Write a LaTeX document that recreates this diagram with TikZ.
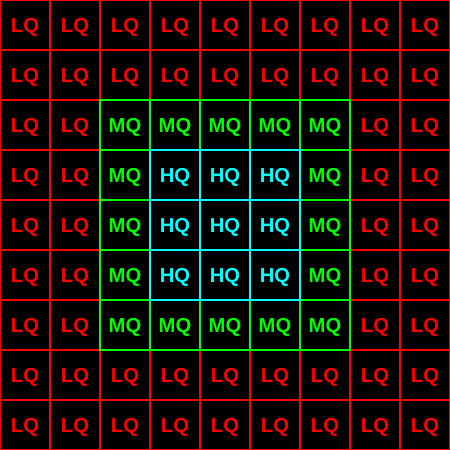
\documentclass[tikz,border=0pt]{standalone}
\usepackage{fontspec}
\setmainfont{Liberation Sans}
\definecolor{lqred}{RGB}{255,0,0}
\definecolor{mqgreen}{RGB}{0,255,0}
\definecolor{hqcyan}{RGB}{0,255,255}
\tikzset{
  cell/.style={draw,minimum size=1cm,inner sep=0pt,outer sep=0pt,line width=0.6pt,
    text height=8.2pt,text depth=0pt,font=\fontsize{11.5}{13}\selectfont\bfseries}
}
\begin{document}
\begin{tikzpicture}
\fill[black] (0,0) rectangle (9,9);
\useasboundingbox (0,0) rectangle (9,9);
% rings: low quality outside, high quality in the middle
\foreach \lev/\txt/\col in {3/LQ/lqred,2/MQ/mqgreen,1/HQ/hqcyan}{
  \foreach \x in {0,...,8}{
    \foreach \y in {0,...,8}{
      \pgfmathtruncatemacro\lv{max(1,min(3,max(abs(\x-4),abs(\y-4))))}
      \ifnum\lv=\lev
        \node[cell,draw=\col,text=\col] (c-\x-\y) at (\x+0.5,8.5-\y) {\txt};
      \fi
    }
  }
}
\end{tikzpicture}
\end{document}
